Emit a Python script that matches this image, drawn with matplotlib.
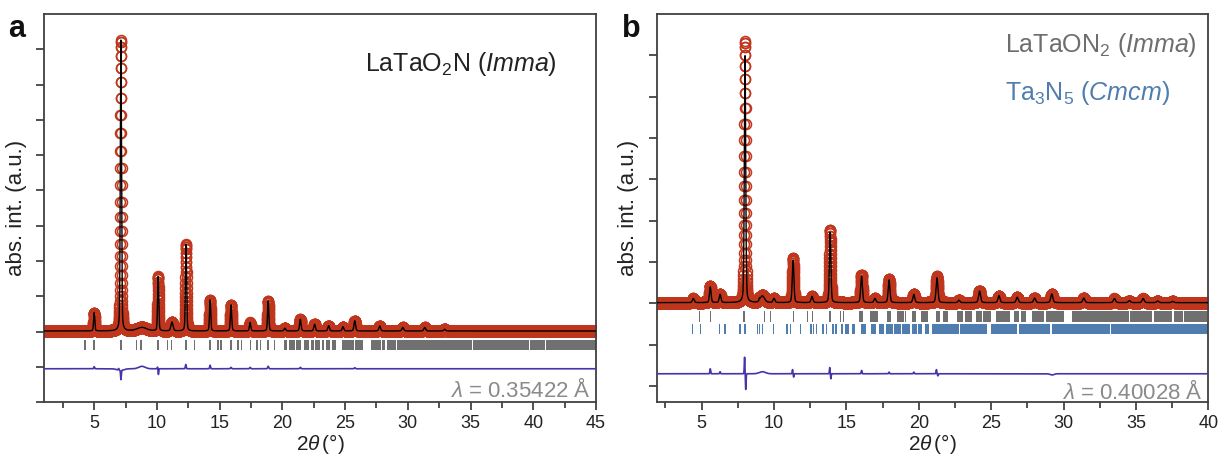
import numpy as np
import matplotlib
matplotlib.use('Agg')
import matplotlib.pyplot as plt
from matplotlib.ticker import MultipleLocator

plt.rcParams['font.family'] = ['Liberation Sans', 'DejaVu Sans']
plt.rcParams['mathtext.fontset'] = 'custom'
plt.rcParams['mathtext.rm'] = 'Liberation Sans'
plt.rcParams['mathtext.it'] = 'Liberation Sans:italic'

# ---------------- panel a : LaTaO2N (Imma), lambda = 0.35422 A
# peaks: position (2theta), observed height, fwhm
pos_a = [5.0, 7.13, 8.8, 10.1, 11.2, 12.32, 14.24, 15.91, 17.43, 18.87, 20.2,
         21.43, 22.57, 23.69, 24.83, 25.77, 27.76, 29.6, 31.35, 32.94]
h_a = [0.52, 8.24, 0.10, 1.54, 0.25, 2.45, 0.88, 0.74, 0.24, 0.85, 0.08,
       0.33, 0.19, 0.15, 0.12, 0.29, 0.14, 0.10, 0.10, 0.05]
w_a = [0.11, 0.11, 0.90, 0.11, 0.20, 0.11, 0.11, 0.12, 0.13, 0.12, 0.15,
       0.14, 0.15, 0.15, 0.15, 0.15, 0.16, 0.17, 0.17, 0.17]

# difference curve features (position, amplitude, width)
dpos_a = [5.0, 6.95, 7.13, 7.1, 8.8, 10.05, 10.12, 12.3, 14.24, 15.9, 17.43, 18.87, 21.43, 25.77]
damp_a = [0.06, 0.05, -0.26, -0.05, 0.07, 0.05, -0.16, 0.12, 0.10, 0.04, 0.04, 0.07, 0.04, 0.03]
dwid_a = [0.08, 0.08, 0.06, 0.60, 0.60, 0.05, 0.06, 0.08, 0.08, 0.10, 0.10, 0.10, 0.10, 0.10]

# reflection markers (start, end) ; start == end is a single tick
refl_a_lo = [4.28, 5.0, 7.13, 8.36, 8.72, 10.08, 10.83, 11.16, 12.33, 12.99, 14.24, 14.88,
             15.1, 15.92, 16.45, 16.72, 17.44, 17.97, 18.24, 18.85, 19.38,
             20.18, 20.58, 21.16, 21.78, 22.3, 22.65, 23.19, 23.5, 24.03, 24.83, 25.15,
             25.47, 25.85, 27.1, 27.63, 27.98, 28.42, 29.22, 30.3, 31.09, 32.02, 32.95,
             33.75, 34.41, 35.27, 36.3, 37.2, 38.2, 38.9, 39.8, 41.07]
refl_a_hi = [4.28, 5.0, 7.13, 8.36, 8.72, 10.08, 10.83, 11.16, 12.33, 12.99, 14.24, 14.88,
             15.1, 15.92, 16.45, 16.72, 17.44, 17.97, 18.24, 18.85, 19.38,
             20.31, 20.98, 21.43, 22.04, 22.44, 22.92, 23.29, 23.77, 24.25, 25.05, 25.31,
             25.69, 26.38, 27.5, 27.82, 28.16, 29.04, 30.16, 30.96, 31.89, 32.82, 33.62,
             34.28, 35.08, 36.2, 37.1, 38.1, 38.8, 39.6, 40.85, 45.0]

# ---------------- panel b : LaTaON2 (Imma) + Ta3N5 (Cmcm), lambda = 0.40028 A
pos_b = [4.43, 5.6, 6.28, 8.0, 9.0, 9.2, 10.0, 11.32, 12.63, 13.88, 16.05, 16.97,
         17.95, 19.66, 21.26, 22.78, 24.2, 25.54, 26.8, 28.0, 29.19, 31.4, 33.52,
         34.55, 35.5, 36.5, 37.54]
h_b = [0.10, 0.41, 0.21, 6.33, 0.05, 0.18, 0.10, 1.08, 0.15, 1.76, 0.67, 0.10,
       0.57, 0.21, 0.64, 0.06, 0.29, 0.17, 0.13, 0.11, 0.21, 0.11, 0.10,
       0.05, 0.10, 0.04, 0.03]
hcalc_b = [0.10, 0.38, 0.20, 5.97, 0.05, 0.16, 0.10, 1.02, 0.15, 1.70, 0.64, 0.10,
           0.55, 0.20, 0.60, 0.06, 0.28, 0.17, 0.13, 0.11, 0.21, 0.11, 0.10,
           0.05, 0.10, 0.04, 0.03]
w_b = [0.15, 0.13, 0.14, 0.11, 0.06, 0.35, 0.15, 0.13, 0.15, 0.12, 0.14, 0.15,
       0.14, 0.15, 0.15, 0.15, 0.16, 0.16, 0.16, 0.16, 0.17, 0.17, 0.17,
       0.17, 0.17, 0.17, 0.17]

dpos_b = [5.6, 6.28, 7.97, 8.05, 9.2, 11.28, 11.36, 13.85, 13.93, 16.05, 17.95, 19.66, 21.22, 21.32, 29.2]
damp_b = [0.12, 0.05, 0.40, -0.38, 0.05, 0.10, -0.08, 0.15, -0.12, 0.08, 0.04, 0.04, 0.10, -0.05, -0.03]
dwid_b = [0.06, 0.06, 0.05, 0.05, 0.50, 0.05, 0.05, 0.05, 0.05, 0.06, 0.06, 0.06, 0.06, 0.06, 0.30]

gray_b_lo = [4.84, 5.63, 7.94, 9.35, 9.75, 11.33, 12.31, 12.66, 13.86, 14.6, 14.8,
             15.93, 16.67, 17.88, 18.57, 19.1, 19.61, 20.19, 21.22, 21.72, 22.71, 23.24,
             24.02, 24.48, 25.36, 25.81, 26.62, 27.08, 27.88, 28.34, 28.81, 29.2, 29.61,
             30.64, 31.22, 31.68, 32.25, 33.06, 33.86, 34.67, 35.36, 36.28, 36.85, 37.66,
             38.35, 39.15]
gray_b_hi = [4.84, 5.63, 7.94, 9.35, 9.75, 11.33, 12.31, 12.66, 13.86, 14.6, 14.8,
             16.12, 17.12, 18.05, 18.92, 19.1, 19.79, 20.57, 21.4, 21.95, 23.01, 23.63,
             24.32, 24.94, 25.7, 26.23, 26.85, 27.38, 28.23, 28.62, 29.08, 29.5, 29.95,
             31.06, 31.56, 32.14, 32.94, 33.75, 34.44, 35.24, 36.05, 36.74, 37.43, 38.23,
             39.03, 39.84]

blue_b_lo = [4.39, 4.94, 6.23, 6.62, 7.66, 8.0, 8.85, 9.01, 9.2, 9.97, 10.9, 11.15,
             11.82, 12.55, 12.72, 12.94, 13.38, 13.61, 14.09, 14.3, 14.7, 14.93, 15.05,
             15.43, 16.05, 16.74, 17.31, 17.82, 18.34, 18.87, 19.26, 19.55, 19.98, 20.45,
             20.94, 21.6, 22.2, 22.88, 23.3, 25.01, 26.97, 28.85, 29.22, 32.25, 33.3,
             34.4, 36.2, 38.1]
blue_b_hi = [4.39, 4.94, 6.23, 6.62, 7.66, 8.0, 8.85, 9.01, 9.2, 9.97, 10.9, 11.15,
             11.82, 12.55, 12.72, 12.94, 13.38, 13.61, 14.09, 14.3, 14.7, 14.93, 15.15,
             15.55, 16.28, 17.03, 17.54, 18.18, 18.69, 19.15, 19.38, 19.8, 20.15, 20.68,
             21.5, 22.1, 22.71, 23.2, 24.65, 26.74, 28.76, 29.04, 32.14, 33.17, 34.3,
             36.1, 38.0, 40.0]

RED = '#c0361c'
GRAY = '#707070'
BLUE = '#4f7db0'
DIFF = '#4a33a8'
TXT = '#222222'


def pseudo_voigt(x, x0, h, fwhm, eta=0.3):
    dx = (x - x0) / fwhm
    g = np.exp(-4 * np.log(2) * dx ** 2)
    l = 1.0 / (1.0 + 4 * dx ** 2)
    return h * (eta * l + (1 - eta) * g)


def profile(x, pos, h, w, bg=0.02):
    y = np.full_like(x, bg)
    for p, hh, ww in zip(pos, h, w):
        y += pseudo_voigt(x, p, hh, ww)
    return y


def diffcurve(x, pos, amp, wid, base):
    y = np.full_like(x, base)
    for p, a, ww in zip(pos, amp, wid):
        y += a * np.exp(-4 * np.log(2) * ((x - p) / ww) ** 2)
    return y


def style_axes(ax, xlim, ylim, yticks):
    ax.set_xlim(*xlim)
    ax.set_ylim(*ylim)
    ax.xaxis.set_major_locator(MultipleLocator(5))
    ax.xaxis.set_minor_locator(MultipleLocator(2.5))
    ax.set_yticks(yticks)
    ax.set_yticklabels([])
    ax.tick_params(axis='both', which='both', direction='out', top=False, right=False,
                   colors='#333333', labelcolor=TXT, labelsize=13, width=1.2)
    ax.tick_params(axis='x', which='major', length=6, pad=3)
    ax.tick_params(axis='x', which='minor', length=4)
    ax.tick_params(axis='y', which='major', length=6)
    for s in ax.spines.values():
        s.set_color('#404040')
        s.set_linewidth(1.3)
    ax.set_xlabel(r'2$\theta\,$(°)', fontsize=15, color=TXT, labelpad=0)
    ax.set_ylabel('abs. int. (a.u.)', fontsize=16, color=TXT, labelpad=3)


def draw_refl(ax, lo, hi, y0, height, color, tw):
    bars = [(a - tw / 2, b - a + tw) for a, b in zip(lo, hi)]
    ax.broken_barh(bars, (y0, height), facecolors=color, edgecolor='none')


fig = plt.figure(figsize=(12.19, 4.59), dpi=100)
axa = fig.add_axes([44 / 1219, 56.7 / 459, 552 / 1219, 388.3 / 459])
axb = fig.add_axes([656.7 / 1219, 56.7 / 459, 551.6 / 1219, 388.3 / 459])

# panel a
xa = np.arange(1.0, 45.0, 0.005)
obs_a = profile(xa, pos_a, h_a, w_a)
axa.plot(xa, obs_a, 'o', mfc='none', mec=RED, ms=7.2, mew=1.1, zorder=2)
axa.plot(xa, obs_a, '-', color='black', lw=1.0, zorder=3)
axa.plot(xa, diffcurve(xa, dpos_a, damp_a, dwid_a, -1.05), color=DIFF, lw=1.2, zorder=3)
draw_refl(axa, refl_a_lo, refl_a_hi, -0.52, 0.28, GRAY, 0.11)
style_axes(axa, (1, 45), (-2, 9), np.arange(-2, 9))
axa.text(0.581, 0.87, r'LaTaO$_2$N ($Imma$)', transform=axa.transAxes, fontsize=18,
         color=TXT, ha='left', va='center')
axa.text(0.99, 0.032, r'$\lambda$ = 0.35422 Å', transform=axa.transAxes, fontsize=16,
         color='#8a8a8a', ha='right', va='center')

# panel b
xb = np.arange(1.9, 40.0, 0.005)
obs_b = profile(xb, pos_b, h_b, w_b)
calc_b = profile(xb, pos_b, hcalc_b, w_b)
axb.plot(xb, obs_b, 'o', mfc='none', mec=RED, ms=7.2, mew=1.1, zorder=2)
axb.plot(xb, calc_b, '-', color='black', lw=1.0, zorder=3)
axb.plot(xb, diffcurve(xb, dpos_b, damp_b, dwid_b, -1.70), color=DIFF, lw=1.2, zorder=3)
draw_refl(axb, gray_b_lo, gray_b_hi, -0.44, 0.26, GRAY, 0.10)
draw_refl(axb, blue_b_lo, blue_b_hi, -0.73, 0.24, BLUE, 0.10)
style_axes(axb, (1.9, 40), (-2.39, 7), np.arange(-2, 7))
axb.text(0.631, 0.92, r'LaTaON$_2$ ($Imma$)', transform=axb.transAxes, fontsize=18,
         color='#6e6e6e', ha='left', va='center')
axb.text(0.631, 0.797, r'Ta$_3$N$_5$ ($Cmcm$)', transform=axb.transAxes, fontsize=18,
         color=BLUE, ha='left', va='center')
axb.text(0.99, 0.027, r'$\lambda$ = 0.40028 Å', transform=axb.transAxes, fontsize=16,
         color='#8a8a8a', ha='right', va='center')

fig.text(8 / 1219, 1 - 37 / 459, 'a', fontsize=22, fontweight='bold', color='#111111')
fig.text(622 / 1219, 1 - 37 / 459, 'b', fontsize=22, fontweight='bold', color='#111111')

fig.savefig('out.png', dpi=100)
